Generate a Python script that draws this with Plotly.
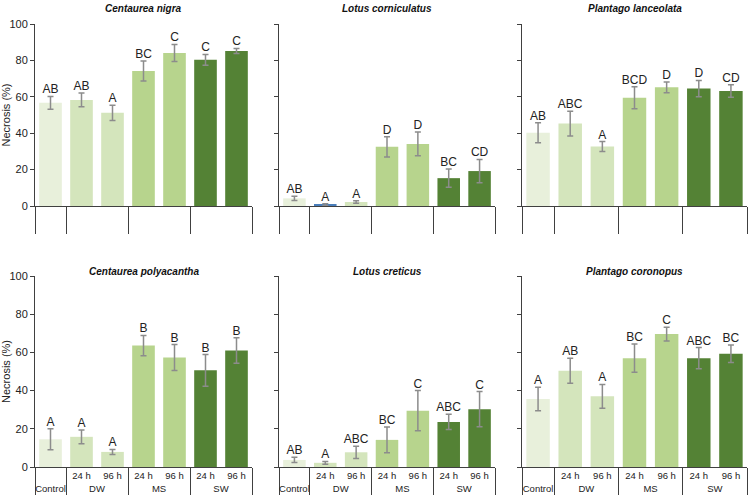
import plotly.graph_objects as go

# categorias del eje x (dos niveles, como en Excel)
groups = ["Control", "DW", "DW", "MS", "MS", "SW", "SW"]
times = [" ", "24 h", "96 h", "24 h", "96 h", "24 h", "96 h"]

species = ["Centaurea nigra", "Lotus corniculatus", "Plantago lanceolata",
           "Centaurea polyacantha", "Lotus creticus", "Plantago coronopus"]

# necrosis media (%), error y letras por especie
nigra_mean = [56.7, 58.3, 51.2, 74.2, 84.1, 80.3, 85.2]
nigra_err = [3.5, 3.8, 4.2, 5.5, 4.7, 3.0, 1.4]
nigra_letters = ["AB", "AB", "A", "BC", "C", "C", "C"]

corniculatus_mean = [4.2, 0.7, 2.2, 32.5, 34.1, 15.3, 19.2]
corniculatus_err = [1.2, 0.6, 0.7, 5.6, 6.5, 5.0, 6.4]
corniculatus_letters = ["AB", "A", "A", "D", "D", "BC", "CD"]

lanceolata_mean = [40.3, 45.3, 32.7, 59.5, 65.2, 64.5, 63.2]
lanceolata_err = [5.5, 6.8, 2.7, 6.0, 3.0, 4.5, 3.4]
lanceolata_letters = ["AB", "ABC", "A", "BCD", "D", "D", "CD"]

polyacantha_mean = [14.5, 15.8, 7.9, 63.6, 57.3, 50.6, 61.0]
polyacantha_err = [5.5, 3.6, 1.3, 5.3, 6.8, 8.3, 6.7]
polyacantha_letters = ["A", "A", "A", "B", "B", "B", "B"]

creticus_mean = [3.7, 2.2, 7.7, 14.2, 29.5, 23.6, 30.3]
creticus_err = [1.4, 0.7, 3.2, 6.7, 10.5, 4.0, 9.2]
creticus_letters = ["AB", "A", "ABC", "BC", "C", "ABC", "C"]

coronopus_mean = [35.6, 50.4, 37.0, 57.0, 69.6, 57.0, 59.3]
coronopus_err = [6.2, 6.6, 6.2, 7.4, 3.6, 5.5, 4.6]
coronopus_letters = ["A", "AB", "A", "BC", "C", "ABC", "BC"]

means = [nigra_mean, corniculatus_mean, lanceolata_mean,
         polyacantha_mean, creticus_mean, coronopus_mean]
errors = [nigra_err, corniculatus_err, lanceolata_err,
          polyacantha_err, creticus_err, coronopus_err]
letters = [nigra_letters, corniculatus_letters, lanceolata_letters,
           polyacantha_letters, creticus_letters, coronopus_letters]

bar_colors = ["#e8f0db", "#d4e5bc", "#d4e5bc", "#b7d48d", "#b7d48d", "#548235", "#548235"]
# en Lotus corniculatus la barra DW 24 h sale azul
corniculatus_colors = ["#e8f0db", "#4a7ebb", "#d4e5bc", "#b7d48d", "#b7d48d", "#548235", "#548235"]

W, H = 748, 501
col_px = [(35, 252), (279, 495), (522, 747)]
row_px = [(24, 206), (276, 467)]
AXIS = "#404040"
FONT = "Liberation Sans, Arial, sans-serif"

fig = go.Figure()

for i, name in enumerate(species):
    n = i + 1
    row, col = divmod(i, 3)
    xa = "x" if n == 1 else "x%d" % n
    ya = "y" if n == 1 else "y%d" % n
    colors = corniculatus_colors if name == "Lotus corniculatus" else bar_colors

    fig.add_trace(go.Bar(
        x=[groups, times], y=means[i],
        marker=dict(color=colors, line=dict(width=0)),
        error_y=dict(type="data", array=errors[i], color="#8c8c8c", thickness=1.5, width=3),
        xaxis=xa, yaxis=ya, hoverinfo="skip",
    ))
    tops = [m + e for m, e in zip(means[i], errors[i])]
    fig.add_trace(go.Scatter(
        x=[groups, times], y=tops, mode="text", text=letters[i],
        textposition="top center", textfont=dict(size=12, color="#222222", family=FONT),
        xaxis=xa, yaxis=ya, hoverinfo="skip", cliponaxis=False,
    ))

    x0, x1 = col_px[col]
    y0, y1 = row_px[row]
    xkey = "xaxis" if n == 1 else "xaxis%d" % n
    ykey = "yaxis" if n == 1 else "yaxis%d" % n
    fig.layout[xkey] = dict(
        type="multicategory", domain=[x0 / W, x1 / W], anchor=ya,
        showline=True, linecolor=AXIS, linewidth=1, ticks="",
        showdividers=True, dividercolor=AXIS, dividerwidth=1,
        tickfont=dict(size=9.5, family=FONT,
                      color="#222222" if row == 1 else "rgba(0,0,0,0)"),
        showgrid=False, zeroline=False, automargin=False,
    )
    fig.layout[ykey] = dict(
        domain=[1 - y1 / H, 1 - y0 / H], anchor=xa, range=[0, 100], dtick=20,
        showline=True, linecolor=AXIS, linewidth=1, ticks="outside", ticklen=4,
        tickcolor=AXIS, showgrid=False, zeroline=False, automargin=False,
        showticklabels=(col == 0), tickfont=dict(size=11, family=FONT, color="#222222"),
        title=dict(text="Necrosis (%)" if col == 0 else "", standoff=6,
                   font=dict(size=11, family=FONT, color="#222222")),
    )
    fig.add_annotation(
        text="<b><i>%s</i></b>" % name, xref="%s domain" % xa, yref="%s domain" % ya,
        x=0.5, y=1, xanchor="center", yanchor="middle",
        yshift=16 if row == 0 else 5, showarrow=False,
        font=dict(size=10, family=FONT, color="#111111"),
    )

fig.update_layout(
    width=W, height=H, margin=dict(l=0, r=0, t=0, b=0),
    showlegend=False, bargap=0.27,
    paper_bgcolor="white", plot_bgcolor="white",
    font=dict(family=FONT),
)

# quitar el margen por defecto del body para que la figura llene la ventana
fig.write_html("out.html", config={"displayModeBar": False},
               post_script="document.body.style.margin = '0';")
